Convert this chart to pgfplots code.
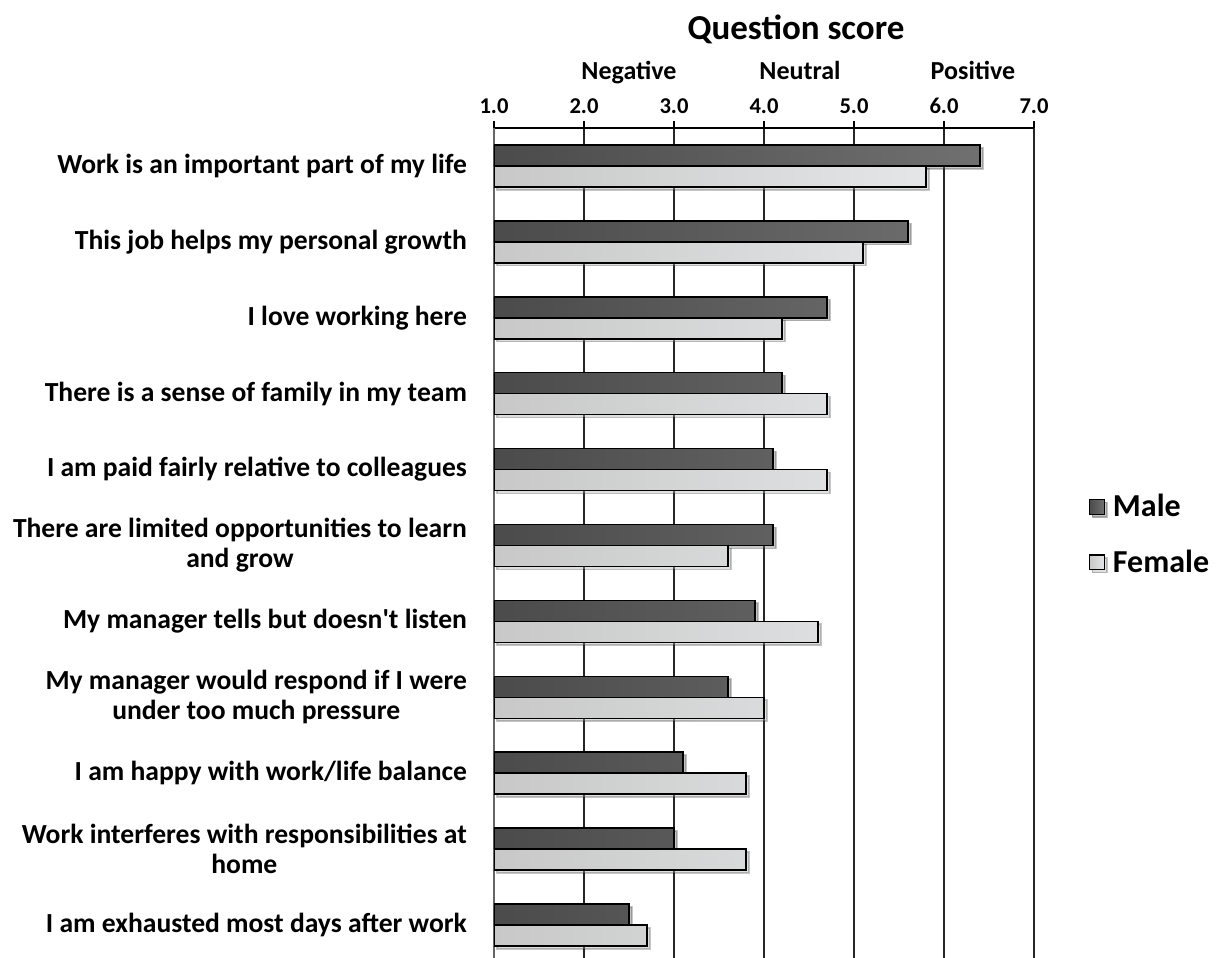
\documentclass[border=0pt]{standalone}
\usepackage{pgfplots}
\pgfplotsset{compat=1.18}
\usepackage{fontspec}
\setmainfont{Carlito}
\usetikzlibrary{shadows}
\definecolor{mA}{HTML}{4B4B4B}
\definecolor{mB}{HTML}{707070}
\definecolor{fA}{HTML}{C8C8C8}
\definecolor{fB}{HTML}{E4E6E7}
\begin{document}
\begin{tikzpicture}
\useasboundingbox (-247pt,64pt) rectangle (364.5pt,-415pt);
\begin{axis}[
  at={(0,0)}, anchor=north west,
  scale only axis, width=270pt, height=417.5pt,
  xmin=1, xmax=7, ymin=-0.5, ymax=10.5, y dir=reverse,
  axis x line*=top, axis y line*=left,
  x axis line style={black, line width=0.8pt},
  y axis line style={black!60, line width=0.8pt},
  xtick={1,2,3,4,5,6,7},
  xticklabels={1.0,2.0,3.0,4.0,5.0,6.0,7.0},
  xmajorgrids, major grid style={black!85, line width=0.8pt},
  tick align=outside, major tick length=3.5pt,
  x tick style={black, line width=0.8pt},
  xticklabel style={font=\bfseries\fontsize{11.3}{13}\selectfont, anchor=base, yshift=4pt},
  xticklabel shift=0pt,
  ytick={0,...,10},
  y tick style={draw=none},
  yticklabels={
    Work is an important part of my life,
    This job helps my personal growth,
    I love working here,
    There is a sense of family in my team,
    I am paid fairly relative to colleagues,
    {There are limited opportunities to learn\\and grow},
    My manager tells but doesn\textquotesingle t listen,
    {My manager would respond if I were\\under too much pressure},
    I am happy with work/life balance,
    {Work interferes with responsibilities at\\home},
    I am exhausted most days after work},
  yticklabel style={font=\bfseries\fontsize{13.8}{15}\selectfont, align=center, xshift=-6.5pt},
  extra y ticks={-0.5,0.5,1.5,2.5,3.5,4.5,5.5,6.5,7.5,8.5,9.5},
  extra y tick labels={},
  extra y tick style={tick style={draw=gray, line width=0.6pt}, major tick length=4.5pt},
  xbar, bar width=10.5pt,
  legend style={at={(axis description cs:1.090,0.513)}, anchor=west, draw=none, fill=none,
    font=\bfseries\fontsize{16}{18}\selectfont, row sep=11pt, legend cell align=left,
    nodes={inner xsep=4pt}},
  legend image code/.code={\draw[#1, draw=black, line width=0.6pt] (0pt,-3.7pt) rectangle (7.4pt,3.7pt);},
  clip=true,
]
\addplot[draw=black, line width=0.8pt, left color=mA, right color=mB, bar shift=5.25pt,
  drop shadow={shadow xshift=1.4pt, shadow yshift=-1.4pt, opacity=0.22}]
  coordinates {(6.4,0) (5.6,1) (4.7,2) (4.2,3) (4.1,4) (4.1,5) (3.9,6) (3.6,7) (3.1,8) (3.0,9) (2.5,10)};
\addlegendentry{Male}
\addplot[draw=black, line width=0.8pt, left color=fA, right color=fB, bar shift=-5.25pt,
  drop shadow={shadow xshift=1.4pt, shadow yshift=-1.4pt, opacity=0.22}]
  coordinates {(5.8,0) (5.1,1) (4.2,2) (4.7,3) (4.7,4) (3.6,5) (4.6,6) (4.0,7) (3.8,8) (3.8,9) (2.7,10)};
\addlegendentry{Female}
\end{axis}
\node[font=\bfseries\fontsize{17.5}{20}\selectfont, anchor=base] at (151pt,44pt) {Question score};
\node[font=\bfseries\fontsize{13}{15}\selectfont, anchor=base] at (67.5pt,24pt) {Negative};
\node[font=\bfseries\fontsize{13}{15}\selectfont, anchor=base] at (153pt,24pt) {Neutral};
\node[font=\bfseries\fontsize{13}{15}\selectfont, anchor=base] at (239.5pt,24pt) {Positive};
\end{tikzpicture}
\end{document}
